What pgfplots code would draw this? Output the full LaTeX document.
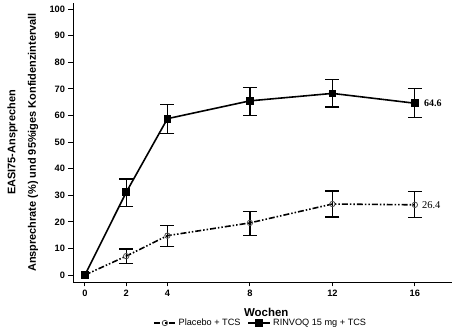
\documentclass[border=0pt]{standalone}
\usepackage{fontspec}
\setmainfont{Liberation Sans}
\newfontfamily\seriffont{Liberation Serif}
\usepackage{pgfplots}
\pgfplotsset{compat=1.18}
\begin{document}
\begin{tikzpicture}
\path[use as bounding box] (0,0) rectangle (453bp,336bp);
\begin{axis}[
  at={(73bp,54bp)}, anchor=south west,
  scale only axis, width=379bp, height=279bp,
  xmin=-0.58, xmax=17.8, ymin=-2.63, ymax=102.3,
  axis lines=left, axis line style={-, line width=1pt},
  xtick={0,2,4,8,12,16}, ytick={0,10,...,100},
  tick align=outside, major tick length=4.5bp,
  tick style={line width=1pt, black},
  /pgf/number format/assume math mode=true,
  tick label style={font=\bfseries\fontsize{9.3}{10}\selectfont},
  clip=false,
  xlabel={Wochen},
  ylabel={EASI75-Ansprechen\\Ansprechrate (\%) und 95\%iges Konfidenzintervall},
  every axis x label/.style={at={(axis description cs:0.51,-0.1075)}, anchor=center, font=\bfseries\fontsize{11.5}{13}\selectfont},
  every axis y label/.style={at={(axis description cs:-0.1326,0.5)}, rotate=90, anchor=center, align=center, font=\bfseries\fontsize{11}{20.5}\selectfont},
  legend style={at={(axis description cs:0.495,-0.147)}, anchor=center, draw=none, fill=none, legend columns=2,
    font=\fontsize{9.2}{10}\selectfont,
    /tikz/every even column/.append style={column sep=5bp}},
  legend image code/.code={\draw[#1] (0bp,0bp) -- (11bp,0bp) -- (22bp,0bp);
    \draw[#1, only marks] plot coordinates {(11bp,0bp)};},
  legend cell align=left,
]
\addplot[black, line width=1.6pt, dash pattern=on 6pt off 2pt on 1.5pt off 2pt on 1.5pt off 2pt,
  mark=o, mark size=2.7bp, mark options={solid, fill=white, line width=0.8pt, draw=black!70},
  error bars/.cd, y dir=both, y explicit,
  error bar style={line width=1.2pt, solid, black},
  error mark options={rotate=90, mark size=7bp, line width=1.2pt, solid, black}]
coordinates {
(0,0)
(2,7.1) += (0,2.7) -= (0,2.9)
(4,14.8) += (0,3.9) -= (0,4.0)
(8,19.6) += (0,4.3) -= (0,4.6)
(12,26.7) += (0,4.9) -= (0,4.9)
(16,26.4) += (0,4.9) -= (0,4.9)
};
\addlegendentry{Placebo + TCS}
\addplot[black, line width=1.6pt, solid, mark=square*, mark size=3.1bp,
  error bars/.cd, y dir=both, y explicit,
  error bar style={line width=1.2pt, solid, black},
  error mark options={rotate=90, mark size=7bp, line width=1.2pt, solid, black}]
coordinates {
(0,0)
(2,31.1) += (0,5.0) -= (0,5.4)
(4,58.8) += (0,5.4) -= (0,5.7)
(8,65.5) += (0,5.1) -= (0,5.5)
(12,68.3) += (0,5.1) -= (0,5.1)
(16,64.6) += (0,5.4) -= (0,5.3)
};
\addlegendentry{RINVOQ 15 mg + TCS}
\node[anchor=west, inner sep=0pt, font=\seriffont\bfseries\fontsize{10}{12}\selectfont] at (axis cs:16,64.6) [xshift=9bp] {64.6};
\node[anchor=west, inner sep=0pt, font=\seriffont\fontsize{10.5}{12}\selectfont] at (axis cs:16,26.4) [xshift=7bp] {26.4};
\end{axis}
\end{tikzpicture}
\end{document}
